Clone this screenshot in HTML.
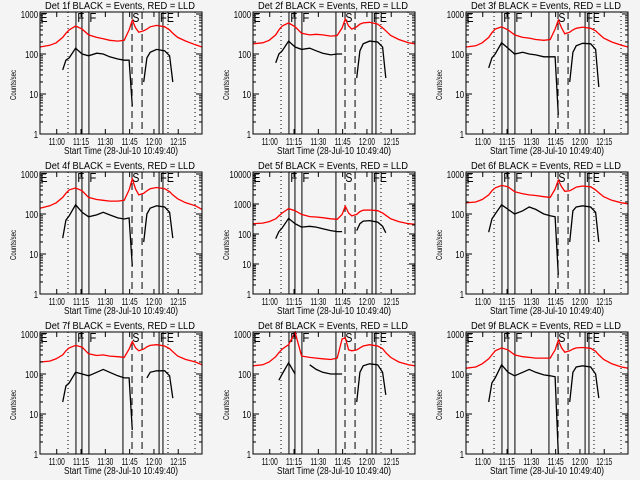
<!DOCTYPE html>
<html><head><meta charset="utf-8">
<style>
html,body{margin:0;padding:0;background:#f4f4f4;}
svg{display:block;}
text{font-family:"Liberation Sans",sans-serif;fill:#000;}
</style></head>
<body>
<svg id="c" width="640" height="480" viewBox="0 0 640 480"></svg>
<script>
const times=[0,6,10,14,16,18,22,26,30,35,39,43,48,52,55,57,59,61,64,66,68,72,77,80,82,85,90,96,100];
const detNames=["1f","2f","3f","4f","5f","6f","7f","8f","9f"];
const yMaxDecade=[3,3,3,3,4,3,3,3,3];
const redSeries=[
[150,165,190,260,330,400,500,420,300,260,240,220,210,220,400,700,450,350,380,420,480,520,480,400,330,260,210,170,150],
[180,190,220,300,400,500,600,480,330,300,310,300,280,290,450,750,500,420,480,560,600,620,560,450,380,290,230,190,180],
[150,160,190,260,340,420,480,400,300,260,250,230,220,230,420,700,450,320,350,400,440,470,440,380,320,250,200,165,150],
[140,160,190,260,330,400,450,380,260,230,220,210,210,220,400,750,420,300,330,380,430,460,430,360,300,240,190,160,130],
[220,230,260,320,400,500,700,600,450,380,370,350,320,310,450,850,500,400,450,560,620,630,600,500,420,320,260,220,210],
[190,200,230,300,380,450,520,480,360,320,300,290,270,260,420,700,480,370,380,420,470,500,480,400,340,270,220,190,180],
[200,210,240,300,380,450,520,470,320,290,300,280,270,260,420,650,450,380,420,480,520,540,500,430,360,280,230,200,170],
[160,170,200,270,340,420,540,1100,280,260,250,240,230,250,750,800,400,380,400,450,500,540,500,430,340,260,200,170,160],
[140,150,180,240,300,380,450,400,300,270,260,250,250,250,400,700,450,350,380,420,450,460,440,370,300,230,180,150,140]
];
const blackSeries=[
[null,null,null,40,70,80,140,100,90,105,100,85,75,70,70,5,null,null,20,80,110,130,120,90,20,null,null,null,null],
[null,null,null,60,100,120,210,150,130,140,120,105,95,100,100,null,null,null,25,120,180,210,200,150,25,null,null,null,null],
[null,null,null,45,80,100,190,140,100,110,100,95,85,85,85,3,null,null,20,110,160,185,180,130,15,null,null,null,null],
[null,null,null,25,70,90,170,110,85,95,110,95,80,75,80,5,null,null,20,100,140,160,150,110,25,null,null,null,null],
[null,null,null,70,120,160,330,220,170,180,170,150,130,120,120,null,null,null,130,220,270,280,250,180,110,null,null,null,null],
[null,null,null,35,75,100,170,130,100,120,150,130,100,90,85,3,null,null,20,120,150,160,150,110,20,null,null,null,null],
[null,null,null,20,50,60,110,100,90,110,130,110,90,80,80,4,null,null,null,80,110,120,120,90,25,null,null,null,null],
[null,null,null,null,70,100,190,100,null,170,130,110,100,100,100,null,null,null,20,110,160,180,170,110,30,null,null,null,null],
[null,null,null,20,60,80,170,110,90,110,130,110,95,90,85,1,null,null,20,110,150,160,150,100,25,null,null,null,null]
];
const tickMin=[10.33,25.33,40.33,55.33,70.33,85.33];
const tickLabels=["11:00","11:15","11:30","11:45","12:00","12:15"];
const dottedLines=[17.3,79,95.7];
const solidLines=[22.2,25.9,30.2,51.2,73.5,75.9];
const dashedLines=[56.8,63];
const markerLetters=["E","F","F","S","F","E"];
const markerMin=[0.3,23,30.5,57,74,78.3];

const NS="http://www.w3.org/2000/svg";
const svg=document.getElementById('c');
function mk(tag,attrs,parent){const e=document.createElementNS(NS,tag);for(const k in attrs)e.setAttribute(k,attrs[k]);(parent||svg).appendChild(e);return e;}

for(let p=0;p<9;p++){
  const col=p%3,row=Math.floor(p/3);
  const ox=col*213,oy=row*160;
  const L=40+ox,R=202+ox,T=12+oy,B=134+oy;
  const g=mk('g',{});
  
  
  const dec=yMaxDecade[p];
  const pxPerDec=(B-14-oy)/dec;
  const xs=t=>L+(R-L)*t/100;
  const ys=v=>B-Math.log10(Math.max(v,1))*pxPerDec;
  const tt=mk('text',{x:L+5,y:T-3,'font-size':10,textLength:150,lengthAdjust:'spacingAndGlyphs'},g);
  tt.textContent='Det '+detNames[p]+' BLACK = Events, RED = LLD';
  
  
  dottedLines.forEach(m=>{const l=mk('line',{x1:xs(m),x2:xs(m),y1:T,y2:B,stroke:'#000','stroke-width':1,'stroke-dasharray':'1,3'},g);});
  solidLines.forEach(m=>{const l=mk('line',{x1:xs(m),x2:xs(m),y1:T,y2:B,stroke:'#000','stroke-width':1},g);});
  dashedLines.forEach(m=>{const l=mk('line',{x1:xs(m),x2:xs(m),y1:T,y2:B,stroke:'#000','stroke-width':1,'stroke-dasharray':'7,4'},g);});
  markerLetters.forEach((c,i)=>{const t=mk('text',{x:xs(markerMin[i]),y:T+10,'font-size':13,textLength:7,lengthAdjust:'spacingAndGlyphs'},g);t.textContent=c;});
  function path(vals,color,name){
    let d='';let pen=false;
    vals.forEach((v,i)=>{if(v==null){pen=false;return;}d+=(pen?'L':'M')+xs(times[i]).toFixed(1)+' '+ys(v).toFixed(1)+' ';pen=true;});
    const pa=mk('path',{d:d,fill:'none',stroke:color,'stroke-width':1.3},g);
    
    
  }
  path(redSeries[p],'#ff0000','lld-series-red');
  path(blackSeries[p],'#000000','events-series-black');
  const bx=mk('rect',{x:L,y:T,width:R-L,height:B-T,fill:'none',stroke:'#000','stroke-width':1},g);
  
  
  for(let d=0;d<=dec;d++){
    const y=ys(Math.pow(10,d));
    mk('line',{x1:L,x2:L+6,y1:y,y2:y,stroke:'#000'},g);
    mk('line',{x1:R-6,x2:R,y1:y,y2:y,stroke:'#000'},g);
    const s=String(Math.pow(10,d));
    const lb=mk('text',{x:L-2-4.3*s.length,y:y+4,'font-size':10,textLength:4.3*s.length,lengthAdjust:'spacingAndGlyphs'},g);
    lb.textContent=s;
    
    
    if(d<dec)for(let m=2;m<10;m++){const ym=ys(m*Math.pow(10,d));mk('line',{x1:L,x2:L+3,y1:ym,y2:ym,stroke:'#000'},g);mk('line',{x1:R-3,x2:R,y1:ym,y2:ym,stroke:'#000'},g);}
  }
  tickMin.forEach((m,i)=>{
    const x=xs(m);
    mk('line',{x1:x,x2:x,y1:B,y2:B-5,stroke:'#000'},g);
    mk('line',{x1:x,x2:x,y1:T,y2:T+5,stroke:'#000'},g);
    const lb=mk('text',{x:x-8,y:B+11,'font-size':10.5,textLength:16,lengthAdjust:'spacingAndGlyphs'},g);
    lb.textContent=tickLabels[i];
    
    
  });
  const xt=mk('text',{x:L+24,y:B+20,'font-size':10,textLength:114,lengthAdjust:'spacingAndGlyphs'},g);
  xt.textContent='Start Time (28-Jul-10 10:49:40)';
  
  
  const yt=mk('text',{x:-15,y:0,'font-size':8.5,textLength:30,lengthAdjust:'spacingAndGlyphs',transform:'translate('+(16+ox)+','+((T+B)/2+12)+') rotate(-90)'},g);
  yt.textContent='Counts/sec';
  
  
}
</script>
</body></html>
